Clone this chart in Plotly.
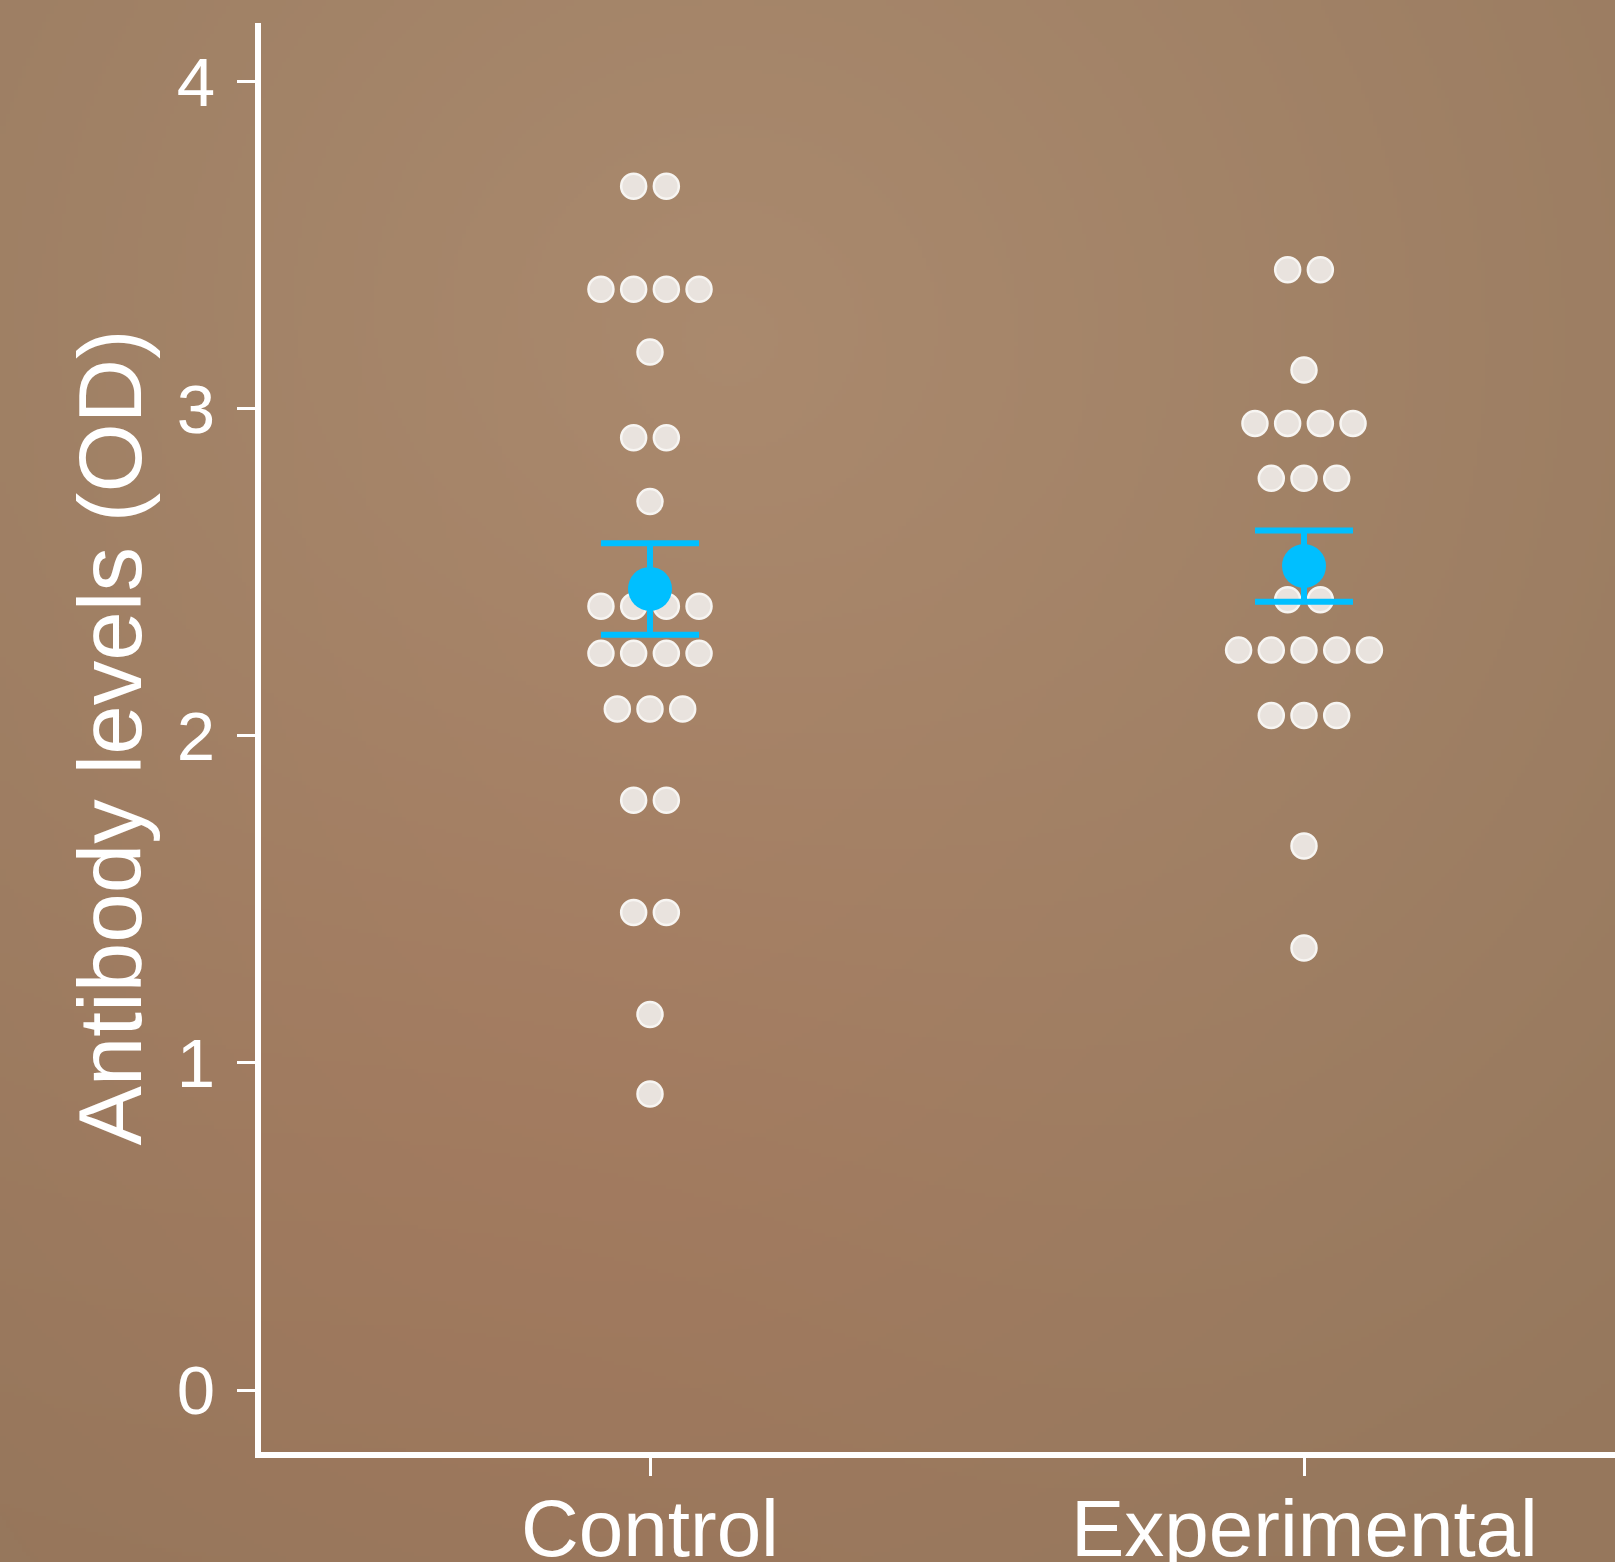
import plotly.graph_objects as go
import numpy as np
import zlib, struct, base64

# ---------------- data ----------------
categories = ["Control", "Experimental"]
control_values = [3.68, 3.68,
                  3.365, 3.365, 3.365, 3.365,
                  3.173,
                  2.911, 2.911,
                  2.716,
                  2.396, 2.396, 2.396, 2.396,
                  2.252, 2.252, 2.252, 2.252,
                  2.082, 2.082, 2.082,
                  1.803, 1.803,
                  1.460, 1.460,
                  1.148,
                  0.905]
experimental_values = [3.425, 3.425,
                       3.118,
                       2.955, 2.955, 2.955, 2.955,
                       2.787, 2.787, 2.787,
                       2.416, 2.416,
                       2.262, 2.262, 2.262, 2.262, 2.262,
                       2.062, 2.062, 2.062,
                       1.663,
                       1.351]
group_means = [2.449, 2.519]
group_sems = [0.140, 0.109]
y_tick_vals = [0, 1, 2, 3, 4]
y_tick_text = ["0", "1", "2", "3", "4"]
y_title = "Antibody levels (OD)"

# ---------------- helpers ----------------
def swarm_x(values, center, step=0.05):
    xs = []
    counts = {}
    for v in values:
        counts[v] = counts.get(v, 0) + 1
    seen = {}
    for v in values:
        n = counts[v]
        i = seen.get(v, 0)
        seen[v] = i + 1
        xs.append(center + (i - (n - 1) / 2) * step)
    return xs


def png_data_uri(arr):
    h, w, _ = arr.shape
    raw = b"".join(b"\x00" + arr[y].tobytes() for y in range(h))

    def chunk(t, d):
        c = struct.pack(">I", len(d)) + t + d
        return c + struct.pack(">I", zlib.crc32(t + d) & 0xffffffff)

    png = (b"\x89PNG\r\n\x1a\n"
           + chunk(b"IHDR", struct.pack(">IIBBBBB", w, h, 8, 2, 0, 0, 0))
           + chunk(b"IDAT", zlib.compress(raw, 9))
           + chunk(b"IEND", b""))
    return "data:image/png;base64," + base64.b64encode(png).decode()


W, H = 1615, 1562
ML, MR, MT, MB = 261, 0, 23, 110

# background radial gradient
gw, gh = 404, 391
yy, xx = np.mgrid[0:gh, 0:gw]
fx = xx / gw
fy = yy / gh
d = np.sqrt(((fx - 0.45) * 1.0) ** 2 + ((fy - 0.22) * 0.97) ** 2)
t = np.clip(d / 0.85, 0, 1)[..., None]
c0 = np.array([170, 138, 110], dtype=float)
c1 = np.array([150, 120, 93], dtype=float)
img = (c0 * (1 - t) + c1 * t)
warm = np.exp(-(((fx - 0.35) / 0.35) ** 2 + ((fy - 0.75) / 0.35) ** 2))[..., None]
img = img + warm * np.array([4, -4, -4])
img = np.clip(img, 0, 255).astype(np.uint8)
bg_uri = png_data_uri(img)

pw = W - ML - MR
ph = H - MT - MB

fig = go.Figure()

dot_marker = dict(size=25, color="#e9e3de", line=dict(color="#f7f5f2", width=2.5))
fig.add_trace(go.Scatter(x=swarm_x(control_values, 0), y=control_values, mode="markers",
                         marker=dot_marker, showlegend=False, hoverinfo="y"))
fig.add_trace(go.Scatter(x=swarm_x(experimental_values, 1), y=experimental_values, mode="markers",
                         marker=dot_marker, showlegend=False, hoverinfo="y"))
fig.add_trace(go.Scatter(x=[0, 1], y=group_means, mode="markers",
                         marker=dict(size=44, color="#00BFFF"),
                         error_y=dict(type="data", array=group_sems, visible=True,
                                      color="#00BFFF", thickness=6, width=49),
                         showlegend=False))

x_px_per_unit = 654.0
x0_px = 650.0
x_range = [(ML - x0_px) / x_px_per_unit, (W - MR - x0_px) / x_px_per_unit]
y_px_per_unit = 327.1
y0_px = 1390.0
y_range = [(y0_px - (H - MB)) / y_px_per_unit, (y0_px - MT) / y_px_per_unit]

font_family = "Liberation Sans, Arial, Helvetica, sans-serif"

# category labels placed under the ticks
label_gap_px = 30
annotations = [dict(text=c, x=i, xref="x", y=-label_gap_px / ph, yref="paper",
                    xanchor="center", yanchor="top", showarrow=False,
                    font=dict(size=80, color="white", family=font_family))
               for i, c in enumerate(categories)]

fig.update_layout(
    width=W, height=H, autosize=False,
    margin=dict(l=ML, r=MR, t=MT, b=MB, pad=0, autoexpand=False),
    paper_bgcolor="#9a7b5e",
    plot_bgcolor="rgba(0,0,0,0)",
    font=dict(family=font_family, color="white"),
    annotations=annotations,
    images=[dict(source=bg_uri, xref="paper", yref="paper",
                 x=-ML / pw, y=1 + MT / ph, sizex=W / pw, sizey=H / ph,
                 xanchor="left", yanchor="top", sizing="stretch", layer="below")],
    xaxis=dict(range=x_range, tickvals=[0, 1], ticktext=["", ""], automargin=False,
               showgrid=False, zeroline=False, showline=True, linecolor="white", linewidth=6,
               ticks="outside", ticklen=18, tickwidth=3, tickcolor="white",
               tickfont=dict(size=80, color="white", family=font_family)),
    yaxis=dict(range=y_range, tickvals=y_tick_vals, ticktext=y_tick_text, automargin=False,
               showgrid=False, zeroline=False, showline=True, linecolor="white", linewidth=6,
               ticks="outside", ticklen=18, tickwidth=3, tickcolor="white",
               ticklabelstandoff=8,
               tickfont=dict(size=69, color="white", family=font_family),
               title=dict(text=y_title, font=dict(size=89, color="white", family=font_family),
                          standoff=8)),
)

fig.write_html("out.html", config={"displayModeBar": False},
               post_script="document.body.style.margin='0';document.body.style.overflow='hidden';")
